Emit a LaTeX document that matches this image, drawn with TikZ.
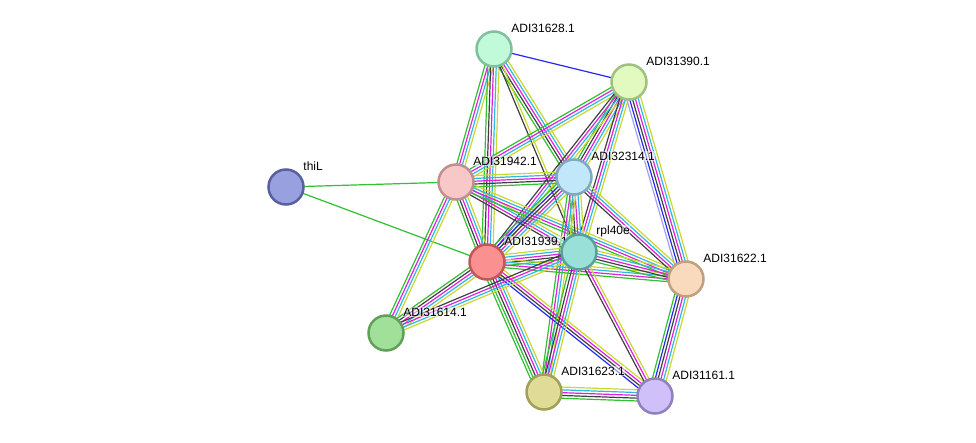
\documentclass[tikz,border=0pt]{standalone}
\usepackage{fontspec}
\setsansfont{Liberation Sans}
\usepackage{xcolor}
\usepackage{tikz}
\usetikzlibrary{calc}
\pgfdeclarelayer{bg}
\pgfsetlayers{bg,main}

\definecolor{txt}{RGB}{200,216,48}
\definecolor{cur}{RGB}{48,184,224}
\definecolor{exper}{RGB}{224,32,224}
\definecolor{coex}{RGB}{64,64,64}
\definecolor{nbh}{RGB}{48,192,48}
\definecolor{cooc}{RGB}{40,40,240}
\definecolor{homo}{RGB}{160,160,250}

% one line per evidence channel, side by side
\newcommand{\stringedge}[4]{%
	\foreach \c [count=\i, evaluate=\i as \off using {2.8*(\i-(#3+1)/2)}] in {#4}
	{
		\draw[draw=\c, line width=1.2pt] ($(#1)!\off pt!90:(#2)$) -- ($(#2)!\off pt!-90:(#1)$);
	}}

\begin{document}
\begin{tikzpicture}[x=1pt, y=-1pt,
	prot/.style={circle, minimum size=35pt, inner sep=0pt, line width=2.5pt},
	lbl/.style={font=\sffamily\fontsize{12}{14}\selectfont, inner sep=0.5pt, xshift=-2pt, yshift=21pt, fill=white, fill opacity=0.5, text opacity=1}]
	\useasboundingbox (0,0) rectangle (976,442);
	\node[prot, fill={rgb,255:red,192;green,250;blue,216}, draw={rgb,255:red,128;green,192;blue,160}, label={[lbl]0:ADI31628.1}] (n628) at (494,49) {};
	\node[prot, fill={rgb,255:red,226;green,250;blue,192}, draw={rgb,255:red,160;green,192;blue,128}, label={[lbl]0:ADI31390.1}] (n390) at (629,82) {};
	\node[prot, fill={rgb,255:red,152;green,160;blue,224}, draw={rgb,255:red,88;green,96;blue,160}, label={[lbl]0:thiL}] (thil) at (286,187) {};
	\node[prot, fill={rgb,255:red,248;green,200;blue,200}, draw={rgb,255:red,192;green,144;blue,144}, label={[lbl]0:ADI31942.1}] (n942) at (456,182) {};
	\node[prot, fill={rgb,255:red,192;green,232;blue,250}, draw={rgb,255:red,128;green,168;blue,192}, label={[lbl]0:ADI32314.1}] (n314) at (574,177) {};
	\node[prot, fill={rgb,255:red,250;green,144;blue,144}, draw={rgb,255:red,192;green,88;blue,88}, label={[lbl]0:ADI31939.1}] (n939) at (487,262) {};
	\node[prot, fill={rgb,255:red,152;green,224;blue,216}, draw={rgb,255:red,88;green,160;blue,152}, label={[lbl]0:rpl40e}] (rpl) at (579,252) {};
	\node[prot, fill={rgb,255:red,250;green,218;blue,188}, draw={rgb,255:red,192;green,160;blue,128}, label={[lbl]0:ADI31622.1}] (n622) at (686,279) {};
	\node[prot, fill={rgb,255:red,160;green,224;blue,152}, draw={rgb,255:red,96;green,160;blue,88}, label={[lbl]0:ADI31614.1}] (n614) at (386,333) {};
	\node[prot, fill={rgb,255:red,224;green,220;blue,152}, draw={rgb,255:red,160;green,160;blue,88}, label={[lbl]0:ADI31623.1}] (n623) at (544,392) {};
	\node[prot, fill={rgb,255:red,208;green,192;blue,250}, draw={rgb,255:red,144;green,128;blue,192}, label={[lbl]0:ADI31161.1}] (n161) at (655,396) {};

	\begin{pgfonlayer}{bg}
		\stringedge{n628}{n390}{1}{cooc}
		\stringedge{n628}{n942}{4}{nbh,exper,cur,txt}
		\stringedge{n628}{n939}{5}{nbh,coex,exper,cur,txt}
		\stringedge{n628}{n314}{5}{nbh,coex,exper,cur,txt}
		\stringedge{n628}{rpl}{2}{coex,txt}
		\stringedge{n390}{n942}{4}{nbh,exper,cur,txt}
		\stringedge{n390}{n314}{5}{nbh,coex,exper,cur,txt}
		\stringedge{n390}{n939}{4}{coex,exper,cur,txt}
		\stringedge{n390}{rpl}{4}{coex,exper,cur,txt}
		\stringedge{n390}{n622}{6}{homo,cooc,coex,exper,cur,txt}
		\stringedge{thil}{n942}{1}{nbh}
		\stringedge{thil}{n939}{1}{nbh}
		\stringedge{n942}{n314}{5}{nbh,coex,exper,cur,txt}
		\stringedge{n942}{n939}{5}{nbh,coex,exper,cur,txt}
		\stringedge{n942}{rpl}{4}{coex,exper,cur,txt}
		\stringedge{n942}{n622}{4}{nbh,exper,cur,txt}
		\stringedge{n942}{n614}{4}{nbh,exper,cur,txt}
		\stringedge{n314}{n939}{6}{nbh,cooc,coex,exper,cur,txt}
		\stringedge{n314}{rpl}{5}{nbh,coex,exper,cur,txt}
		\stringedge{n314}{n622}{4}{coex,exper,cur,txt}
		\stringedge{n314}{n623}{4}{nbh,exper,cur,txt}
		\stringedge{n939}{rpl}{5}{nbh,coex,exper,cur,txt}
		\stringedge{n939}{n622}{4}{nbh,exper,cur,txt}
		\stringedge{n939}{n614}{5}{nbh,coex,exper,cur,txt}
		\stringedge{n939}{n623}{6}{nbh,nbh,coex,exper,cur,txt}
		\stringedge{n939}{n161}{4}{cooc,coex,exper,txt}
		\stringedge{rpl}{n622}{5}{nbh,coex,exper,cur,txt}
		\stringedge{rpl}{n623}{5}{nbh,coex,exper,cur,txt}
		\stringedge{rpl}{n161}{3}{coex,exper,txt}
		\stringedge{rpl}{n614}{4}{coex,exper,cur,txt}
		\stringedge{n622}{n161}{6}{nbh,cooc,coex,exper,cur,txt}
		\stringedge{n623}{n161}{5}{nbh,coex,exper,cur,txt}
	\end{pgfonlayer}
\end{tikzpicture}
\end{document}
